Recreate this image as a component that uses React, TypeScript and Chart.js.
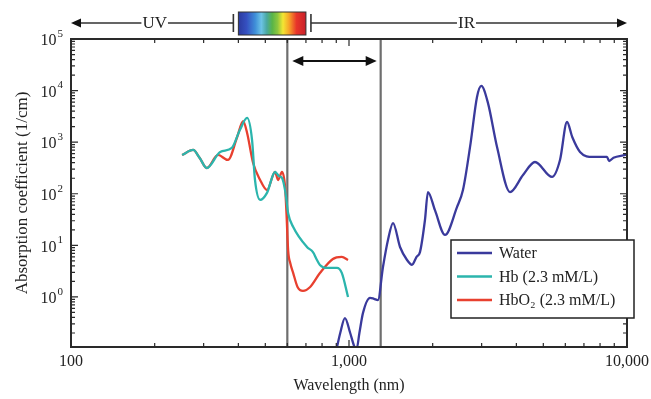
import React, { useEffect, useRef } from "react";
import { Chart, registerables } from "chart.js";

Chart.register(...registerables);

// ---- data (wavelength nm, absorption coefficient 1/cm) ----
const waterNm = [885, 930, 967, 1010, 1045, 1066, 1090, 1123, 1190, 1230, 1271, 1325, 1381, 1440, 1526, 1617, 1685, 1750, 1800, 1876, 1923, 2038, 2215, 2446, 2570, 2738, 2887, 2992, 3162, 3408, 3795, 4227, 4667, 5375, 5741, 6085, 6354, 6776, 7550, 8470, 8620, 8940, 9840, 10000];
const waterAbs = [0.06, 0.2, 0.39, 0.2, 0.11, 0.1, 0.2, 0.49, 0.96, 0.92, 0.87, 3.8, 12.7, 27, 9.3, 5.2, 4.2, 6, 7.4, 31, 108, 48, 15.9, 55, 118, 960, 7500, 12300, 5720, 807, 108, 231, 413, 212, 452, 2460, 1260, 647, 517, 517, 431, 500, 565, 580];

const hbNm = [251, 275, 290, 308, 344, 379, 405, 430, 448, 459, 479, 507, 542, 560, 575, 590, 604, 630, 706, 742, 767, 786, 832, 905, 942, 992];
const hbAbs = [565, 706, 500, 316, 646, 773, 1720, 2945, 1100, 185, 76, 104, 264, 220, 200, 110, 42, 22.7, 9.3, 7.4, 5.2, 4.17, 3.65, 3.65, 2.92, 1.0];

const hbo2Nm = [251, 275, 290, 308, 338, 367, 396, 416, 430, 452, 479, 507, 542, 556, 574, 589, 596, 604, 615, 630, 653, 683, 725, 786, 875, 942, 992];
const hbo2Abs = [565, 706, 500, 316, 565, 452, 1260, 2570, 1510, 395, 185, 118, 264, 185, 264, 135, 40, 8, 4.5, 2.9, 1.56, 1.31, 1.56, 2.9, 5.45, 5.96, 5.2];

const seriesLabels = ["Water", "Hb (2.3 mM/L)", "HbO\u2082 (2.3 mM/L)"];
const seriesColors = ["#3a3a9c", "#2bb5ad", "#e8402f"];

const xTicks = [100, 1000, 10000];
const xTickLabels = ["100", "1,000", "10,000"];
const yTicks = [1, 10, 100, 1000, 10000, 100000];
const yTickBase = "10";
const yTickExponents = ["0", "1", "2", "3", "4", "5"];

const windowNm = [600, 1300];
const uvNm = [100, 400];
const visibleNm = [400, 700];
const irNm = [700, 10000];
const bandLabels = ["UV", "IR"];

const FONT = "'Liberation Serif', 'DejaVu Serif', serif";
const TEXT = "#222";

function arrowHead(ctx: CanvasRenderingContext2D, tipX: number, y: number, dir: number, len: number, half: number) {
  ctx.beginPath();
  ctx.moveTo(tipX, y);
  ctx.lineTo(tipX - dir * len, y - half);
  ctx.lineTo(tipX - dir * len, y + half);
  ctx.closePath();
  ctx.fill();
}

const decorPlugin = {
  id: "decor",
  beforeDatasetsDraw(chart: any) {
    const { ctx, chartArea, scales } = chart;
    const { top, bottom } = chartArea;
    ctx.save();
    ctx.strokeStyle = "#6e6e6e";
    ctx.lineWidth = 2.2;
    windowNm.forEach((nm) => {
      const px = scales.x.getPixelForValue(nm);
      ctx.beginPath();
      ctx.moveTo(px, top);
      ctx.lineTo(px, bottom);
      ctx.stroke();
    });
    ctx.restore();
  },
  afterDatasetsDraw(chart: any) {
    const { ctx, chartArea, scales } = chart;
    const { left, right, top, bottom } = chartArea;
    const xs = scales.x;
    const ys = scales.y;
    ctx.save();

    // frame
    ctx.strokeStyle = "#2a2a2a";
    ctx.lineWidth = 2;
    ctx.strokeRect(left, top, right - left, bottom - top);

    // minor/major ticks inward
    ctx.lineWidth = 1.2;
    for (let d = 100; d < 10000; d *= 10) {
      for (let k = 1; k <= 9; k++) {
        const v = d * k;
        const px = xs.getPixelForValue(v);
        const len = k === 1 ? 7 : 4;
        ctx.beginPath();
        ctx.moveTo(px, bottom);
        ctx.lineTo(px, bottom - len);
        ctx.moveTo(px, top);
        ctx.lineTo(px, top + len);
        ctx.stroke();
      }
    }
    for (let d = 0.1; d < 100000; d *= 10) {
      for (let k = 1; k <= 9; k++) {
        const v = d * k;
        if (v < ys.min || v > ys.max) continue;
        const py = ys.getPixelForValue(v);
        const len = k === 1 ? 7 : 4;
        ctx.beginPath();
        ctx.moveTo(left, py);
        ctx.lineTo(left + len, py);
        ctx.moveTo(right, py);
        ctx.lineTo(right - len, py);
        ctx.stroke();
      }
    }

    // y tick labels with superscript exponents
    ctx.fillStyle = TEXT;
    ctx.textBaseline = "middle";
    ctx.textAlign = "left";
    yTicks.forEach((v, i) => {
      const py = ys.getPixelForValue(v);
      ctx.font = `16px ${FONT}`;
      const wb = ctx.measureText(yTickBase).width;
      ctx.font = `11px ${FONT}`;
      const we = ctx.measureText(yTickExponents[i]).width;
      const xEnd = left - 8;
      ctx.font = `16px ${FONT}`;
      ctx.fillText(yTickBase, xEnd - we - wb - 1, py + 2);
      ctx.font = `11px ${FONT}`;
      ctx.fillText(yTickExponents[i], xEnd - we, py - 5);
    });

    // double arrow for therapeutic window
    const ay = top + 22;
    const ax1 = xs.getPixelForValue(windowNm[0]) + 5;
    const ax2 = xs.getPixelForValue(windowNm[1]) - 4;
    ctx.strokeStyle = "#111";
    ctx.fillStyle = "#111";
    ctx.lineWidth = 2;
    ctx.beginPath();
    ctx.moveTo(ax1 + 6, ay);
    ctx.lineTo(ax2 - 6, ay);
    ctx.stroke();
    arrowHead(ctx, ax1, ay, -1, 11, 5);
    arrowHead(ctx, ax2, ay, 1, 11, 5);

    // top spectral band
    const by = 23;
    const uvL = xs.getPixelForValue(uvNm[0]);
    const visL = xs.getPixelForValue(visibleNm[0]);
    const visR = xs.getPixelForValue(visibleNm[1]);
    const irR = xs.getPixelForValue(irNm[1]);
    ctx.strokeStyle = "#333";
    ctx.lineWidth = 1.6;
    ctx.beginPath();
    ctx.moveTo(uvL + 6, by);
    ctx.lineTo(visL - 5, by);
    ctx.moveTo(visR + 5, by);
    ctx.lineTo(irR - 6, by);
    ctx.stroke();
    ctx.fillStyle = "#111";
    arrowHead(ctx, uvL, by, -1, 10, 4.5);
    arrowHead(ctx, irR, by, 1, 10, 4.5);
    ctx.lineWidth = 1.6;
    ctx.beginPath();
    ctx.moveTo(visL - 5, by - 9);
    ctx.lineTo(visL - 5, by + 9);
    ctx.moveTo(visR + 5, by - 9);
    ctx.lineTo(visR + 5, by + 9);
    ctx.stroke();

    const g = ctx.createLinearGradient(visL, 0, visR, 0);
    g.addColorStop(0, "#2b3a9e");
    g.addColorStop(0.12, "#3550c0");
    g.addColorStop(0.25, "#3f8fd8");
    g.addColorStop(0.34, "#6cc3e6");
    g.addColorStop(0.42, "#4aa8a0");
    g.addColorStop(0.5, "#58b448");
    g.addColorStop(0.58, "#8cc63e");
    g.addColorStop(0.66, "#f3e633");
    g.addColorStop(0.75, "#f7a428");
    g.addColorStop(0.86, "#e8352a");
    g.addColorStop(1, "#c8202a");
    ctx.fillStyle = g;
    ctx.fillRect(visL, 12, visR - visL, 23);
    ctx.strokeStyle = "#333";
    ctx.lineWidth = 1;
    ctx.strokeRect(visL, 12, visR - visL, 23);

    ctx.font = `17px ${FONT}`;
    ctx.textAlign = "center";
    ctx.textBaseline = "middle";
    const labelPos = [
      Math.sqrt(uvNm[0] * uvNm[1]),
      Math.sqrt(irNm[0] * irNm[1]),
    ];
    bandLabels.forEach((t, i) => {
      const px = xs.getPixelForValue(labelPos[i]);
      const w = ctx.measureText(t).width;
      ctx.fillStyle = "#fff";
      ctx.fillRect(px - w / 2 - 1, by - 6, w + 2, 12);
      ctx.fillStyle = TEXT;
      ctx.fillText(t, px, by + 1);
    });

    // legend
    const boxR = right + 7;
    const boxB = bottom - 29;
    const boxW = 183;
    const boxH = 78;
    const boxL = boxR - boxW;
    const boxT = boxB - boxH;
    ctx.fillStyle = "#fff";
    ctx.fillRect(boxL, boxT, boxW, boxH);
    ctx.strokeStyle = "#222";
    ctx.lineWidth = 1.5;
    ctx.strokeRect(boxL, boxT, boxW, boxH);
    ctx.font = `16px ${FONT}`;
    ctx.textAlign = "left";
    ctx.textBaseline = "middle";
    chart.data.datasets.forEach((ds: any, i: number) => {
      const ly = boxT + 13 + i * 23.5;
      ctx.strokeStyle = ds.borderColor;
      ctx.lineWidth = 2.5;
      ctx.beginPath();
      ctx.moveTo(boxL + 6, ly);
      ctx.lineTo(boxL + 41, ly);
      ctx.stroke();
      ctx.fillStyle = TEXT;
      ctx.fillText(ds.label, boxL + 48, ly + 1);
    });

    ctx.restore();
  },
};

export default function App() {
  const ref = useRef<HTMLCanvasElement | null>(null);
  useEffect(() => {
    document.body.style.margin = "0";
    if (!ref.current) return;
    const mk = (xsArr: number[], ysArr: number[]) => xsArr.map((v, i) => ({ x: v, y: ysArr[i] }));
    const chart = new Chart(ref.current, {
      type: "line",
      data: {
        datasets: [
          { label: seriesLabels[0], data: mk(waterNm, waterAbs), borderColor: seriesColors[0] },
          { label: seriesLabels[1], data: mk(hbNm, hbAbs), borderColor: seriesColors[1] },
          { label: seriesLabels[2], data: mk(hbo2Nm, hbo2Abs), borderColor: seriesColors[2] },
        ],
      },
      options: {
        responsive: false,
        maintainAspectRatio: false,
        animation: false,
        layout: { padding: { top: 39, right: 24, left: 0, bottom: 0 } },
        elements: {
          point: { radius: 0 },
          line: { borderWidth: 2.3, cubicInterpolationMode: "monotone", fill: false },
        },
        plugins: { legend: { display: false }, tooltip: { enabled: false } },
        scales: {
          x: {
            type: "logarithmic",
            min: 100,
            max: 10000,
            grid: { display: false },
            border: { display: false },
            afterBuildTicks: (s: any) => {
              s.ticks = xTicks.map((v) => ({ value: v }));
            },
            afterFit: (s: any) => {
              s.height = 52;
            },
            ticks: {
              autoSkip: false,
              maxRotation: 0,
              padding: -3,
              color: TEXT,
              font: { family: FONT, size: 16 },
              callback: (v: any) => {
                const i = xTicks.indexOf(Number(v));
                return i >= 0 ? xTickLabels[i] : "";
              },
            },
            title: {
              display: true,
              text: "Wavelength (nm)",
              color: TEXT,
              font: { family: FONT, size: 16 },
              padding: { top: 2, bottom: 4 },
            },
          },
          y: {
            type: "logarithmic",
            min: 0.107,
            max: 100000,
            grid: { display: false },
            border: { display: false },
            afterBuildTicks: (s: any) => {
              s.ticks = yTicks.map((v) => ({ value: v }));
            },
            afterFit: (s: any) => {
              s.width = 71;
            },
            ticks: {
              display: false,
            },
            title: {
              display: true,
              text: "Absorption coefficient (1/cm)",
              color: TEXT,
              font: { family: FONT, size: 17 },
              padding: { top: 12, bottom: 0 },
            },
          },
        },
      },
      plugins: [decorPlugin],
    });
    return () => chart.destroy();
  }, []);
  return (
    <div style={{ width: 651, height: 399, background: "#fff" }}>
      <canvas ref={ref} width={651} height={399} style={{ display: "block" }} />
    </div>
  );
}
